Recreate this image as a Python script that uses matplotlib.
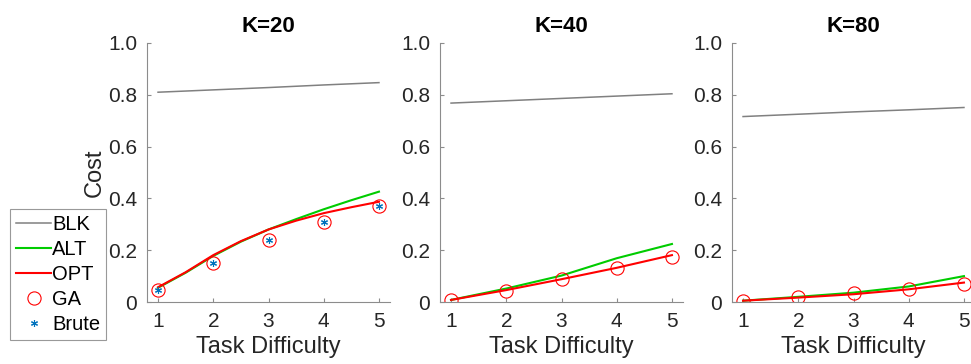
import numpy as np
import matplotlib.pyplot as plt

#(0) Data:
difficulty = [1, 2, 3, 4, 5]
half_steps = [1, 1.5, 2, 2.5, 3, 3.5, 4, 4.5, 5]
titles     = ['K=20', 'K=40', 'K=80']

blk_x = [difficulty, difficulty, difficulty]
blk   = [[0.810, 0.819, 0.828, 0.838, 0.847],
         [0.768, 0.777, 0.786, 0.795, 0.804],
         [0.716, 0.725, 0.734, 0.742, 0.751]]
line_x = [half_steps, difficulty, difficulty]
alt   = [[0.055, 0.113, 0.178, 0.233, 0.280, 0.320, 0.358, 0.393, 0.426],
         [0.008, 0.052, 0.102, 0.169, 0.224],
         [0.005, 0.020, 0.036, 0.060, 0.100]]
opt   = [[0.057, 0.115, 0.181, 0.235, 0.280, 0.314, 0.343, 0.366, 0.387],
         [0.008, 0.046, 0.088, 0.132, 0.181],
         [0.005, 0.017, 0.030, 0.049, 0.075]]
ga    = [[0.046, 0.152, 0.239, 0.308, 0.371],
         [0.008, 0.043, 0.088, 0.130, 0.175],
         [0.005, 0.018, 0.033, 0.050, 0.070]]
brute = [0.046, 0.152, 0.239, 0.308, 0.371]   # only shown for K=20


#(1) Figure setup:
plt.rcParams['font.family'] = ['Liberation Sans', 'DejaVu Sans']
fig   = plt.figure(figsize=(9.71, 3.64), dpi=100)
lefts = [147/971, 440/971, 732/971]
axc   = '#8c8c8c'
txtc  = '#262626'


#(2) Plot panels:
for i in range(3):
    ax = fig.add_axes([lefts[i], 62/364, 243/971, 259/364])
    ax.plot(blk_x[i], blk[i], color='#808080', lw=1.1, label='BLK')
    ax.plot(line_x[i], alt[i], color='#00cc00', lw=1.5, label='ALT')
    ax.plot(line_x[i], opt[i], color='#ff0000', lw=1.5, label='OPT')
    ax.plot(difficulty, ga[i], ls='none', marker='o', ms=9.5, mfc='none',
            mec='#ff0000', mew=0.8, label='GA')
    if i == 0:
        ax.plot(difficulty, brute, ls='none', marker=(6, 2, 0), ms=5,
                mec='#0072BD', mew=0.8, label='Brute')
        ax.set_ylabel('Cost', fontsize=17, color=txtc, labelpad=2)
    ax.set_xlim(0.8, 5.2)
    ax.set_ylim(0, 1)
    ax.set_xticks(difficulty)
    ax.set_yticks([0, 0.2, 0.4, 0.6, 0.8, 1.0])
    ax.set_yticklabels(['0', '0.2', '0.4', '0.6', '0.8', '1.0'])
    ax.set_title(titles[i], fontsize=16, fontweight='bold', pad=8)
    ax.set_xlabel('Task Difficulty', fontsize=17, color=txtc, labelpad=4)
    for s in ['top', 'right']:
        ax.spines[s].set_visible(False)
    for s in ['left', 'bottom']:
        ax.spines[s].set_color(axc)
    ax.tick_params(direction='in', length=3, colors=axc, labelcolor=txtc,
                   labelsize=15, pad=7)
    if i == 0:
        leg = ax.legend(loc='lower left', bbox_to_anchor=(10/971, 24/364),
                        bbox_transform=fig.transFigure, fontsize=14.5,
                        frameon=True, fancybox=False, borderpad=0.3,
                        labelspacing=0.3, handlelength=1.75, handletextpad=0.05,
                        borderaxespad=0)
        leg.get_frame().set_edgecolor('#808080')
        leg.get_frame().set_linewidth(0.8)

fig.savefig('out.png', dpi=100)
